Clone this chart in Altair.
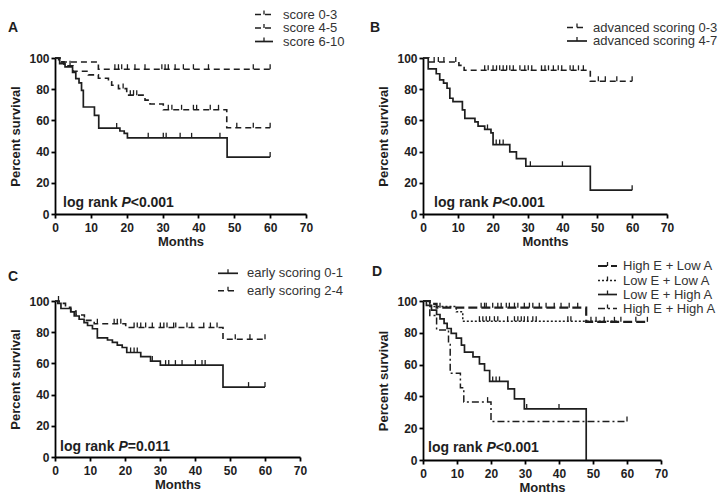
import altair as alt
import pandas as pd

FONT = "Liberation Sans"
INK = "#1e1e1e"
X_TICKS = [0, 10, 20, 30, 40, 50, 60, 70]
Y_TICKS = [0, 20, 40, 60, 80, 100]

# ---------------- Panel A ----------------
A_labels = ["score 0-3", "score 4-5", "score 6-10"]
A03_t = [0, 1.7, 12.1, 60]
A03_v = [100, 97.4, 92.8, 92.8]
A03_c = [16.7, 17.7, 18.6, 20.2, 22.3, 25.1, 29.8, 30.7, 31.6, 33.5, 35.8, 38.6, 42.8, 55.3, 60]
A45_t = [0, 1, 2.5, 5, 9.3, 12.1, 14.9, 15.8, 17.7, 20, 25.1, 26.5, 30.2, 47.9, 60]
A45_v = [100, 97.5, 95, 91.5, 89.2, 87, 84.7, 82.5, 80.4, 76.2, 73, 70.5, 66.8, 55.3, 55.3]
A45_c = [4.2, 19, 21, 21.9, 22.8, 31.6, 32.6, 35.3, 38.6, 39.5, 43.3, 45.6, 50.7, 55.3, 60]
A610_t = [0, 1.3, 2.8, 4.9, 5.8, 6.7, 7.4, 7.9, 11, 12.2, 18.1, 19.3, 20.2, 48, 60]
A610_v = [100, 96.4, 94.3, 90.8, 86.8, 84, 79.3, 68.6, 63.2, 55.1, 53.2, 51.7, 48.8, 36.5, 36.5]
A610_c = [17.2, 26, 30.2, 31, 34.9, 38.1, 46, 60]

# ---------------- Panel B ----------------
B_labels = ["advanced scoring 0-3", "advanced scoring 4-7"]
B03_t = [0, 1.7, 10.3, 11.8, 48, 60]
B03_v = [100, 97.4, 95.3, 92.1, 85.1, 85.1]
B03_c = [3.2, 4.4, 6, 9.4, 17.7, 18.7, 20.1, 21.1, 22, 23, 24, 24.9, 25.9, 27.8, 29.2, 30.2,
         31.2, 34, 35, 36, 37.4, 38.8, 39.8, 42.2, 43.1, 44.6, 46, 50.3, 52.3, 55.6, 60]
B47_t = [0, 1.5, 3.8, 4.8, 5.9, 6.9, 7.7, 8.6, 11.3, 12, 14.9, 15.8, 17.7, 19.5, 20.1, 24.9, 26.8, 29.5, 48, 60]
B47_v = [100, 93, 89.9, 86, 83.9, 80.6, 74.2, 72, 66.7, 61.3, 59.1, 56.3, 54.2, 52, 44.5, 39.8, 35.5, 30.6, 15.3, 15.3]
B47_c = [18.5, 21, 22, 23, 30.8, 40, 60]

# ---------------- Panel C ----------------
C_labels = ["early scoring 0-1", "early scoring 2-4"]
C01_t = [0, 0.8, 1.7, 4.5, 5.5, 6.9, 8.3, 9.3, 10.7, 12.1, 15, 16.4, 17.8, 19.2, 20.5, 24.5, 27.3, 30.1, 48, 60]
C01_v = [100, 98.5, 95.2, 93, 90.4, 88.3, 86.1, 84.3, 82.2, 76.3, 75, 73.5, 71.7, 70.2, 67, 64.3, 61.5, 58.9, 44.8, 44.8]
C01_c = [21.6, 22.6, 23.5, 27.8, 31.6, 32.5, 34.4, 36.3, 40.1, 42, 42.9, 55.3, 60]
C24_t = [0, 1.2, 3, 4.5, 6, 8.4, 11.2, 20.2, 48, 60]
C24_v = [100, 98.5, 96, 93.5, 91, 87.6, 85.4, 83, 75.5, 75.5]
C24_c = [1, 12.1, 16.9, 17.8, 18.8, 22.6, 23.5, 24.5, 25.9, 27.8, 30.1, 31.1, 32, 33.9, 34.5,
         37.7, 39.1, 42.5, 44.4, 46.3, 51.5, 55.7, 60]

# ---------------- Panel D ----------------
D_labels = ["High E + Low A", "Low E + Low A", "Low E + High A", "High E + High A"]
D1_t = [0, 2, 4, 48, 66]
D1_v = [100, 98.2, 95.8, 86.9, 86.9]
D1_c = [5, 17.1, 18.1, 18.6, 20.5, 22, 23, 24.5, 25.4, 26.9, 27.9, 29.8, 31.3, 32.3, 34.2, 36.2,
        38.6, 40.6, 43, 45.5, 49.4, 50.9, 53.3, 56.3, 58.2, 62.6, 66]
D2_t = [0, 2, 9.8, 11.7, 57]
D2_v = [100, 96.5, 93.2, 87.3, 87.3]
D2_c = [16.6, 17.6, 18.6, 19.6, 21, 22, 24.9, 26.9, 27.9, 28.9, 29.8, 30.8, 32.3, 33.3, 42.6, 43.5]
D3_t = [0, 1, 2.5, 4, 5, 6.2, 7.1, 8.3, 9.8, 11.3, 12.2, 14.7, 16.6, 18.1, 19.6, 25, 26.9, 29.8, 48]
D3_v = [100, 97.2, 94.3, 91.5, 88.7, 85.9, 82.7, 79.6, 76.6, 72.2, 67.9, 64.8, 60.5, 56.3, 49.4, 44.7, 38.4, 32.1, 0]
D3_c = [20.5, 21.5, 22.5, 30.5, 40]
D4_t = [0, 2, 4, 7.5, 8, 11, 12, 20, 60]
D4_v = [100, 90.9, 81.8, 72.7, 54.5, 45.5, 36.4, 24.2, 24.2]
D4_c = [19, 60]


def at(ts, vs, t):
    val = vs[0]
    for ti, vi in zip(ts, vs):
        if ti <= t:
            val = vi
    return val


def text_layer(txt, x, y, size, weight="bold", style="normal", align="left", color=INK):
    return alt.Chart(pd.DataFrame({"s": [txt]})).mark_text(
        align=align, baseline="middle", font=FONT, fontSize=size, fontWeight=weight,
        fontStyle=style, color=color
    ).encode(x=alt.value(x), y=alt.value(y), text="s:N")


def panel(series, labels, legend, letter, letter_xy, pval, lr_xy, width, height):
    xenc = alt.X("t:Q", scale=alt.Scale(domain=[0, 70], nice=False, zero=False),
                 axis=alt.Axis(values=X_TICKS, title="Months", titlePadding=2, labelPadding=4,
                               labelFlush=False, labelOverlap=False))
    yenc = alt.Y("v:Q", scale=alt.Scale(domain=[0, 100], nice=False),
                 axis=alt.Axis(values=Y_TICKS, title="Percent survival", titlePadding=6,
                               labelPadding=2, labelFlush=False, labelOverlap=False))
    layers = []
    for s in series:
        df = pd.DataFrame({"t": s["t"], "v": s["v"]})
        kw = dict(interpolate="step-after", color=INK, strokeWidth=s["w"])
        if s["dash"]:
            kw["strokeDash"] = s["dash"]
        layers.append(alt.Chart(df).mark_line(**kw).encode(x=xenc, y=yenc))
        cdf = pd.DataFrame({"t": s["c"], "v": [at(s["t"], s["v"], c) for c in s["c"]]})
        layers.append(alt.Chart(cdf).mark_tick(orient="vertical", size=5, thickness=1.3, yOffset=-2.5,
                                               color=INK, opacity=1).encode(x=xenc, y=yenc))
    # legend
    x0, x1, xt, ys = legend
    for s, lab, yy in zip(series, labels, ys):
        kw = dict(color=INK, strokeWidth=s["w"])
        if s["dash"]:
            kw["strokeDash"] = s["dash"]
        one = pd.DataFrame({"s": [lab]})
        layers.append(alt.Chart(one).mark_rule(**kw).encode(
            x=alt.value(x0), x2=alt.value(x1), y=alt.value(yy)))
        layers.append(alt.Chart(one).mark_rule(color=INK, strokeWidth=1.3).encode(
            x=alt.value((x0 + x1) / 2), y=alt.value(yy - 4), y2=alt.value(yy)))
        layers.append(text_layer(lab, xt, yy, 13, weight="normal", color="#333333"))
    # panel letter
    layers.append(text_layer(letter, letter_xy[0], letter_xy[1], 14))
    # log rank text
    lx, ly = lr_xy
    layers.append(text_layer("log rank ", lx, ly, 14))
    layers.append(text_layer("P", lx + 58.4, ly, 14, style="italic"))
    layers.append(text_layer(pval, lx + 67.7, ly, 14))
    return alt.layer(*layers).properties(width=width, height=height)


A = panel(
    [dict(t=A03_t, v=A03_v, c=A03_c, dash=[6, 4], w=1.6),
     dict(t=A45_t, v=A45_v, c=A45_c, dash=[6, 4], w=1.6),
     dict(t=A610_t, v=A610_v, c=A610_c, dash=None, w=1.7)],
    A_labels, (200, 218, 228, [-43.5, -30, -16.5]), "A", (-47, -30), "<0.001", (8, 144.5), 251, 156)

B = panel(
    [dict(t=B03_t, v=B03_v, c=B03_c, dash=[6, 4], w=1.6),
     dict(t=B47_t, v=B47_v, c=B47_c, dash=None, w=1.7)],
    B_labels, (144, 164, 170, [-30.5, -17]), "B", (-53, -30), "<0.001", (11, 145), 244, 156)

C = panel(
    [dict(t=C01_t, v=C01_v, c=C01_c, dash=None, w=1.7),
     dict(t=C24_t, v=C24_v, c=C24_c, dash=[6, 4], w=1.6)],
    C_labels, (163, 183, 192, [-27.7, -10.3]), "C", (-47, -24.5), "=0.011", (5, 145.7), 245, 156)

D = panel(
    [dict(t=D1_t, v=D1_v, c=D1_c, dash=[9, 4], w=2.2),
     dict(t=D2_t, v=D2_v, c=D2_c, dash=[2, 2], w=1.5),
     dict(t=D3_t, v=D3_v, c=D3_c, dash=None, w=1.7),
     dict(t=D4_t, v=D4_v, c=D4_c, dash=[7, 3, 2, 3], w=1.5)],
    D_labels, (175, 194, 200, [-35, -20.5, -6.5, 7.5]), "D", (-51, -29), "<0.001", (5, 147), 238, 159)

chart = alt.concat(
    A, B, C, D, columns=2, spacing={"row": 87, "column": 117}, bounds="flush"
).properties(
    padding={"left": 0, "top": 0, "right": 0, "bottom": 0},
    background="white",
).configure_view(
    strokeWidth=0
).configure_axis(
    domainColor="#000000", domainWidth=1.8, tickColor="#000000", tickWidth=1.8, tickSize=4,
    grid=False, labelFont=FONT, labelFontSize=12, labelFontWeight="bold", labelColor=INK,
    titleFont=FONT, titleFontSize=13, titleFontWeight="bold", titleColor=INK,
)

chart.save("out.html", embed_options={"renderer": "svg", "actions": False})
